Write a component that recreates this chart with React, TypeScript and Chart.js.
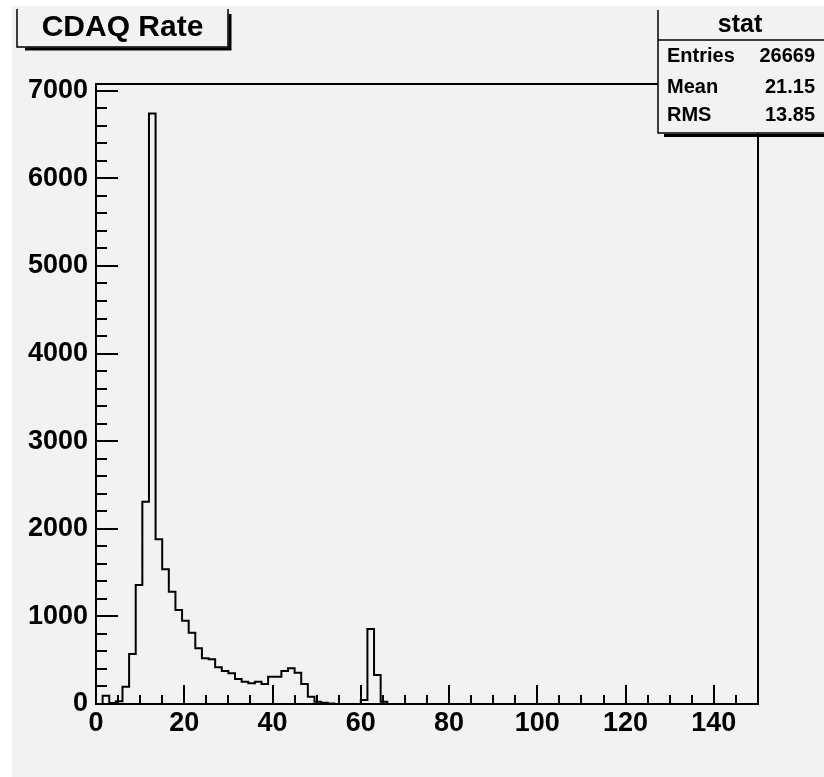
import React, { useEffect, useRef } from "react";
import { Chart, registerables } from "chart.js";

Chart.register(...registerables);

// Histogram "CDAQ Rate": 100 bins from 0 to 150 (bin width 1.5)
const xMin = 0;
const xMax = 150;
const binWidth = 1.5;
const counts: number[] = [
  0, 95, 10, 30, 198, 571, 1358, 2309, 6740, 1880,
  1538, 1282, 1073, 951, 814, 635, 521, 510, 419, 377,
  350, 285, 255, 236, 255, 228, 312, 312, 377, 407,
  358, 228, 84, 27, 15, 5, 0, 0, 0, 0,
  45, 856, 331, 27, 0, 0, 0, 0, 0, 0,
  0, 0, 0, 0, 0, 0, 0, 0, 0, 0,
  0, 0, 0, 0, 0, 0, 0, 0, 0, 0,
  0, 0, 0, 0, 0, 0, 0, 0, 0, 0,
  0, 0, 0, 0, 0, 0, 0, 0, 0, 0,
  0, 0, 0, 0, 0, 0, 0, 0, 0, 0,
];
const yMax = 7077;
const xTickValues = [0, 20, 40, 60, 80, 100, 120, 140];
const yTickValues = [0, 1000, 2000, 3000, 4000, 5000, 6000, 7000];
const xMinorStep = 5;
const yMinorStep = 200;

const titleText = "CDAQ Rate";
const statTitle = "stat";
const statLabels = ["Entries", "Mean", "RMS"];
const statValues = ["26669", "21.15", "13.85"];

const BG = "#f2f2f2";
const FONT = "'Liberation Sans', Arial, Helvetica, sans-serif";

export default function App() {
  const ref = useRef<HTMLCanvasElement | null>(null);

  useEffect(() => {
    if (!ref.current) return;
    const pts = counts.map((v, i) => ({ x: xMin + i * binWidth, y: v }));
    pts.push({ x: xMax, y: counts[counts.length - 1] });

    const decor = {
      id: "rootDecor",
      beforeDraw(chart: any) {
        const c = chart.ctx;
        c.save();
        c.fillStyle = "#ffffff";
        c.fillRect(0, 0, chart.width, chart.height);
        c.fillStyle = BG;
        c.fillRect(12, 6, chart.width - 12, chart.height - 6);
        c.restore();
      },
      afterDraw(chart: any) {
        const c = chart.ctx;
        const xs = chart.scales.x;
        const ys = chart.scales.y;
        const a = chart.chartArea;
        c.save();
        c.strokeStyle = "#000";
        c.lineCap = "butt";
        // ticks (inside)
        c.lineWidth = 2;
        c.beginPath();
        for (let v = xMin; v <= xMax + 1e-9; v += xMinorStep) {
          const px = Math.round(xs.getPixelForValue(v));
          const len = xTickValues.includes(v) ? 19 : 9;
          c.moveTo(px, a.bottom);
          c.lineTo(px, a.bottom - len);
        }
        for (let v = 0; v <= yMax; v += yMinorStep) {
          const py = Math.round(ys.getPixelForValue(v));
          const len = yTickValues.includes(v) ? 22 : 11;
          c.moveTo(a.left, py);
          c.lineTo(a.left + len, py);
        }
        c.stroke();
        // frame
        c.lineWidth = 2;
        c.strokeRect(a.left, a.top, a.right - a.left, a.bottom - a.top);

        // title box
        const tl = 17, tr = 228, tt = 4, tb = 47;
        c.fillStyle = BG;
        c.fillRect(tl, 6, tr - tl, tb - 6);
        c.lineWidth = 1.5;
        c.beginPath();
        c.moveTo(tl, 9);
        c.lineTo(tl, tb);
        c.lineTo(tr, tb);
        c.lineTo(tr, 9);
        c.stroke();
        c.lineWidth = 3;
        c.beginPath();
        c.moveTo(tl + 8, tb + 2);
        c.lineTo(tr + 2, tb + 2);
        c.lineTo(tr + 2, tt + 10);
        c.stroke();
        c.fillStyle = "#000";
        c.font = `bold 30px ${FONT}`;
        c.textAlign = "center";
        c.textBaseline = "middle";
        c.fillText(titleText, (tl + tr) / 2, 28);

        // stat box
        const sl = 658, st = 6, sb = 133, sr = chart.width;
        c.fillStyle = BG;
        c.fillRect(sl, st, sr - sl, sb - st);
        c.lineWidth = 1.5;
        c.beginPath();
        c.moveTo(sl, 10);
        c.lineTo(sl, sb);
        c.lineTo(sr, sb);
        c.moveTo(sl, 40);
        c.lineTo(sr, 40);
        c.stroke();
        c.lineWidth = 3;
        c.beginPath();
        c.moveTo(sl + 6, sb + 2.5);
        c.lineTo(sr, sb + 2.5);
        c.stroke();
        c.fillStyle = "#000";
        c.font = `bold 25px ${FONT}`;
        c.textAlign = "center";
        c.fillText(statTitle, 740, 25);
        c.font = `bold 20px ${FONT}`;
        const rowsY = [56, 87, 115];
        statLabels.forEach((lab, i) => {
          c.textAlign = "left";
          c.fillText(lab, 667, rowsY[i]);
          c.textAlign = "right";
          c.fillText(statValues[i], 815, rowsY[i]);
        });
        c.restore();
      },
    };

    const chart = new Chart(ref.current, {
      type: "line",
      data: {
        datasets: [
          {
            data: pts,
            stepped: "before",
            borderColor: "#000",
            borderWidth: 2,
            pointRadius: 0,
            fill: false,
            tension: 0,
          },
        ],
      },
      options: {
        animation: false,
        responsive: false,
        devicePixelRatio: 1,
        parsing: false as any,
        layout: { padding: { left: 0, top: 84, right: 66, bottom: 0 } },
        plugins: {
          legend: { display: false },
          title: { display: false },
          tooltip: { enabled: false },
        },
        scales: {
          x: {
            type: "linear",
            min: xMin,
            max: xMax,
            grid: { display: false, drawTicks: false },
            border: { display: false },
            afterBuildTicks: (s: any) => {
              s.ticks = xTickValues.map((v) => ({ value: v }));
            },
            afterFit: (s: any) => {
              s.height = 73;
            },
            ticks: {
              padding: 3,
              color: "#000",
              maxRotation: 0,
              minRotation: 0,
              autoSkip: false,
              callback: (v: any) => String(v),
              font: { family: FONT, size: 27, weight: "bold" },
            },
          },
          y: {
            type: "linear",
            min: 0,
            max: yMax,
            grid: { display: false, drawTicks: false },
            border: { display: false },
            afterBuildTicks: (s: any) => {
              s.ticks = yTickValues.map((v) => ({ value: v }));
            },
            afterFit: (s: any) => {
              s.width = 96;
            },
            ticks: {
              padding: 8,
              color: "#000",
              autoSkip: false,
              callback: (v: any) => String(v),
              font: { family: FONT, size: 27, weight: "bold" },
            },
          },
        },
      } as any,
      plugins: [decor],
    });
    return () => chart.destroy();
  }, []);

  return (
    <canvas
      ref={ref}
      width={824}
      height={777}
      style={{ position: "absolute", left: 0, top: 0, width: 824, height: 777 }}
    />
  );
}
